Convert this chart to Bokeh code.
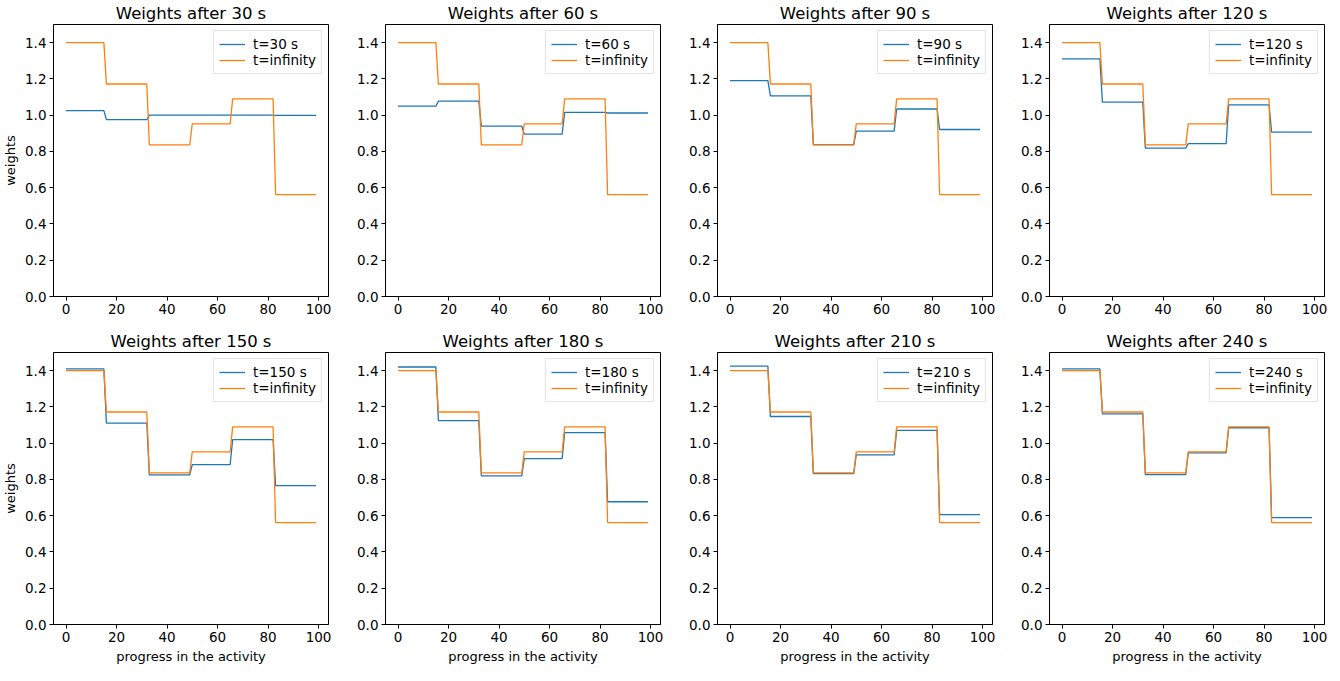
import numpy as np
from bokeh.plotting import figure
from bokeh.layouts import row, column
from bokeh.models import Range1d, FixedTicker, Legend, LegendItem, NumeralTickFormatter
from bokeh.embed import file_html
from bokeh.resources import INLINE

# ---- data ----
progress = list(range(100))
segment_lengths = [16, 17, 17, 16, 17, 17]  # x = 0-15, 16-32, 33-49, 50-65, 66-82, 83-99

times = [30, 60, 90, 120, 150, 180, 210, 240]
w_inf = [1.40, 1.172, 0.836, 0.952, 1.09, 0.562]
w_30 = [1.025, 0.975, 1.0, 1.0, 1.0, 0.999]
w_60 = [1.05, 1.077, 0.94, 0.896, 1.015, 1.012]
w_90 = [1.19, 1.106, 0.838, 0.912, 1.034, 0.921]
w_120 = [1.31, 1.072, 0.818, 0.843, 1.057, 0.906]
w_150 = [1.41, 1.11, 0.825, 0.882, 1.02, 0.766]
w_180 = [1.42, 1.124, 0.82, 0.915, 1.058, 0.677]
w_210 = [1.425, 1.147, 0.832, 0.935, 1.07, 0.606]
w_240 = [1.41, 1.162, 0.826, 0.947, 1.085, 0.589]
series = [w_30, w_60, w_90, w_120, w_150, w_180, w_210, w_240]

x_ticks = [0, 20, 40, 60, 80, 100]
y_ticks = [0.0, 0.2, 0.4, 0.6, 0.8, 1.0, 1.2, 1.4]

BLUE = "#1f77b4"
ORANGE = "#ff7f0e"
FONT = "DejaVu Sans"
FW, FH = 275, 272


def expand(levels):
    return np.repeat(levels, segment_lengths)


def make_panel(i, t, vals):
    r, c = divmod(i, 4)
    left = 44 if c == 0 else 52
    right = 8 if c == 3 else 5
    top = 20 if r == 0 else 30
    bottom = 26 if r == 0 else 44
    p = figure(frame_width=FW, frame_height=FH, output_backend="svg", toolbar_location=None,
               x_range=Range1d(-4.95, 103.95), y_range=Range1d(0, 1.5),
               min_border_left=left, min_border_right=right,
               min_border_top=top, min_border_bottom=bottom,
               title=f"Weights after {t} s")
    p.title.text_font = FONT
    p.title.text_font_size = "16.5px"
    p.title.text_font_style = "normal"
    p.title.align = "center"
    p.title.standoff = 3
    p.title.text_color = "black"
    p.grid.visible = False
    p.outline_line_color = "black"
    p.outline_line_width = 1
    p.outline_line_alpha = 1
    p.background_fill_color = "white"
    p.border_fill_color = "white"

    for ax in (p.xaxis[0], p.yaxis[0]):
        ax.axis_line_color = "black"
        ax.major_tick_line_color = "black"
        ax.major_tick_out = 4
        ax.major_tick_in = 0
        ax.minor_tick_line_color = None
        ax.major_label_text_font = FONT
        ax.major_label_text_font_size = "13.5px"
        ax.major_label_text_color = "black"
        ax.major_label_standoff = 3
        ax.axis_label_text_font = FONT
        ax.axis_label_text_font_size = "13px"
        ax.axis_label_text_font_style = "normal"
        ax.axis_label_text_color = "black"
        ax.axis_label_standoff = 4
    p.xaxis.ticker = FixedTicker(ticks=x_ticks)
    p.yaxis.ticker = FixedTicker(ticks=y_ticks)
    p.yaxis.formatter = NumeralTickFormatter(format="0.0")
    if c == 0:
        p.yaxis.axis_label = "weights"
    if r == 1:
        p.xaxis.axis_label = "progress in the activity"

    l1 = p.line(progress, expand(vals), line_color=BLUE, line_width=1.3)
    l2 = p.line(progress, expand(w_inf), line_color=ORANGE, line_width=1.3)
    legend = Legend(items=[LegendItem(label=f"t={t} s", renderers=[l1]),
                           LegendItem(label="t=infinity", renderers=[l2])],
                    location="top_right")
    legend.margin = 6
    legend.padding = 5
    legend.spacing = 0
    legend.label_height = 16
    legend.glyph_height = 16
    legend.glyph_width = 26
    legend.label_standoff = 8
    legend.label_text_font = FONT
    legend.label_text_font_size = "13.5px"
    legend.label_text_color = "black"
    legend.border_line_color = "#cccccc"
    legend.border_line_width = 1
    legend.background_fill_color = "white"
    legend.background_fill_alpha = 0.8
    p.add_layout(legend, "center")
    return p


panels = [make_panel(i, t, v) for i, (t, v) in enumerate(zip(times, series))]
layout = column(row(*panels[:4]), row(*panels[4:]))

open("out.html", "w").write(file_html(layout, INLINE))
